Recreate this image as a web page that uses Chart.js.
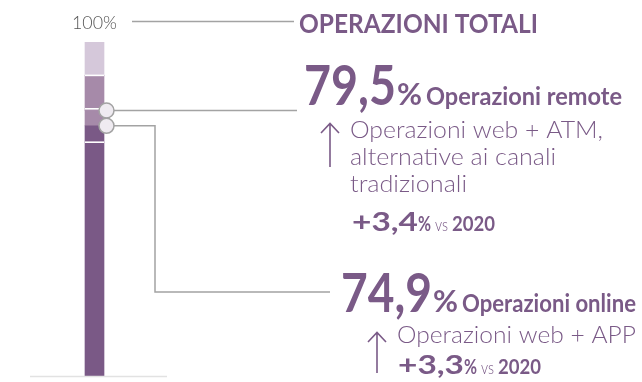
<!DOCTYPE html>
<html>
<head>
<meta charset="utf-8">
<script src="https://cdn.jsdelivr.net/npm/chart.js@4"></script>
<style>
  body { margin: 0; background: #fff; }
  canvas { display: block; }
</style>
</head>
<body>
<canvas id="operazioniChart" width="642" height="382"></canvas>
<script>
// Quote delle operazioni sul totale (%)
const categorie = ['Operazioni totali'];
const online = [74.9];
const remote = [79.5];
const divisori = [70, 80, 90];      // linee bianche fra le celle della barra
const fasciaChiara = [90, 100];     // cella chiara in cima
const crescita = ['+3,4', '+3,3'];  // variazione vs anno precedente
const annoConfronto = ['2020'];

const VIOLA = '#7a5a87';
const GRIGIO = '#a3a3a3';

// testo compresso/allargato fino alla larghezza voluta
function testo(ctx, str, x, y, w, font, color) {
    ctx.save();
    ctx.font = font;
    ctx.fillStyle = color;
    ctx.textBaseline = 'alphabetic';
    const m = ctx.measureText(str).width;
    ctx.translate(x, y);
    ctx.scale(w / m, 1);
    ctx.fillText(str, 0, 0);
    ctx.restore();
}

function freccia(ctx, x, top, bottom) {
    ctx.save();
    ctx.strokeStyle = VIOLA;
    ctx.lineWidth = 1.6;
    ctx.beginPath();
    ctx.moveTo(x, bottom);
    ctx.lineTo(x, top);
    ctx.moveTo(x - 9, top + 10);
    ctx.lineTo(x, top + 0.5);
    ctx.lineTo(x + 9, top + 10);
    ctx.stroke();
    ctx.restore();
}

function variazione(ctx, x, y, val) {
    testo(ctx, val, x, y, 66, 'bold 27px Lato', VIOLA);
    testo(ctx, '%', x + 66, y, 13, 'bold 21px Lato', VIOLA);
    testo(ctx, 'vs', x + 83, y, 13, '300 18px Lato', VIOLA);
    testo(ctx, annoConfronto[0], x + 100, y, 43, 'bold 20px Lato', VIOLA);
}

const annotazioni = {
    id: 'annotazioni',
    afterDatasetsDraw(chart) {
        const ctx = chart.ctx;
        const y = chart.scales.y;
        const bar = chart.getDatasetMeta(0).data[0];
        const left = bar.x - bar.width / 2;
        const right = bar.x + bar.width / 2;

        // divisori bianchi
        ctx.save();
        ctx.strokeStyle = '#ffffff';
        ctx.lineWidth = 1.6;
        divisori.forEach(v => {
            const py = y.getPixelForValue(v);
            ctx.beginPath();
            ctx.moveTo(left, py);
            ctx.lineTo(right, py);
            ctx.stroke();
        });
        ctx.restore();

        // linea di base
        const base = y.getPixelForValue(0);
        ctx.save();
        ctx.strokeStyle = '#e2e2e2';
        ctx.lineWidth = 1.5;
        ctx.beginPath();
        ctx.moveTo(30, base + 0.5);
        ctx.lineTo(167, base + 0.5);
        ctx.stroke();
        ctx.restore();

        // connettori
        const cx = right + 2.5;
        const yRem = y.getPixelForValue(remote[0]);
        const yOn = y.getPixelForValue(online[0]);
        ctx.save();
        ctx.strokeStyle = GRIGIO;
        ctx.lineWidth = 1.5;
        ctx.beginPath();
        ctx.moveTo(132, 21.5);
        ctx.lineTo(294, 21.5);
        ctx.moveTo(cx, yRem);
        ctx.lineTo(297, yRem);
        ctx.moveTo(cx, yOn);
        ctx.lineTo(155, yOn);
        ctx.lineTo(155, 292);
        ctx.lineTo(330, 292);
        ctx.stroke();

        // cerchietti sui valori
        [yRem, yOn].forEach(py => {
            ctx.beginPath();
            ctx.arc(cx, py, 7.5, 0, Math.PI * 2);
            ctx.fillStyle = '#efebf1';
            ctx.fill();
            ctx.stroke();
        });
        ctx.restore();

        const fmt = v => v.toFixed(1).replace('.', ',');

        testo(ctx, '100%', 72, 29, 45, '300 17px Lato', '#555555');
        testo(ctx, 'OPERAZIONI TOTALI', 299, 33, 239, 'bold 27px Lato', VIOLA);

        // operazioni remote
        testo(ctx, fmt(remote[0]), 304, 105, 92, 'bold 56px Lato', VIOLA);
        testo(ctx, '%', 397, 105, 25, 'bold 30px Lato', VIOLA);
        testo(ctx, 'Operazioni remote', 426, 105, 196, 'bold 25px Lato', VIOLA);
        freccia(ctx, 330, 123, 167);
        testo(ctx, 'Operazioni web + ATM,', 350, 138, 253, '300 23px Lato', VIOLA);
        testo(ctx, 'alternative ai canali', 350, 165, 206, '300 23px Lato', VIOLA);
        testo(ctx, 'tradizionali', 350, 192, 117, '300 23px Lato', VIOLA);
        variazione(ctx, 352, 231, crescita[0]);

        // operazioni online
        testo(ctx, fmt(online[0]), 341, 312, 91, 'bold 54px Lato', VIOLA);
        testo(ctx, '%', 433, 312, 25, 'bold 30px Lato', VIOLA);
        testo(ctx, 'Operazioni online', 462, 312, 174, 'bold 24px Lato', VIOLA);
        freccia(ctx, 377, 332, 373);
        testo(ctx, 'Operazioni web + APP', 397, 343, 239, '300 23px Lato', VIOLA);
        variazione(ctx, 398, 374, crescita[1]);
    }
};

const ctx = document.getElementById('operazioniChart').getContext('2d');
new Chart(ctx, {
    type: 'bar',
    data: {
        labels: categorie,
        datasets: [
            { data: [[0, online[0]]], backgroundColor: '#7a5986' },
            { data: [[online[0], remote[0]]], backgroundColor: '#a68aa9' },
            { data: [[remote[0], fasciaChiara[0]]], backgroundColor: '#a68aa9' },
            { data: [fasciaChiara], backgroundColor: '#d5c8da' }
        ]
    },
    options: {
        responsive: false,
        animation: false,
        layout: { padding: { top: 42, bottom: 6, left: 30, right: 483 } },
        datasets: { bar: { barThickness: 19, borderWidth: 0 } },
        plugins: { legend: { display: false }, tooltip: { enabled: false } },
        scales: {
            x: { display: false, stacked: true },
            y: { display: false, min: 0, max: 100 }
        }
    },
    plugins: [annotazioni]
});
</script>
</body>
</html>
